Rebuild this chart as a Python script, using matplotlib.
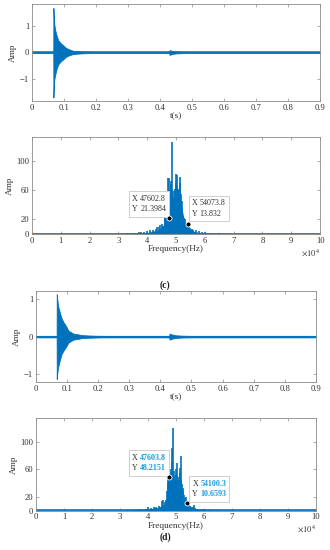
import matplotlib
matplotlib.use("Agg")
import matplotlib.pyplot as plt
from matplotlib.patches import Rectangle
from matplotlib.transforms import IdentityTransform

plt.rcParams['font.family'] = ['Liberation Serif', 'DejaVu Serif']
plt.rcParams['mathtext.fontset'] = 'stix'

BLUE = '#0072BD'
TIPBLUE = '#1a9ae0'
EDGE = '#8c8c8c'
TXT = '#333333'

# ---------------- data ----------------
# time signal (c): envelope points (t, upper, lower)
tc_t  = [0.0, 0.0665, 0.0668, 0.0690, 0.0720, 0.0770, 0.0820, 0.0900, 0.0980, 0.1050, 0.1130, 0.1220, 0.1290, 0.1400, 0.1600, 0.1900, 0.2200, 0.4280, 0.4300, 0.4320, 0.4400, 0.4500, 0.4700, 0.5000, 0.9000]
tc_up = [0.02, 0.02, 1.65, 1.10, 0.85, 0.62, 0.45, 0.34, 0.26, 0.18, 0.13, 0.09, 0.06, 0.045, 0.03, 0.022, 0.02, 0.02, 0.09, 0.08, 0.05, 0.035, 0.025, 0.02, 0.02]
tc_lo = [-0.02, -0.02, -1.67, -1.05, -0.85, -0.60, -0.44, -0.33, -0.25, -0.17, -0.12, -0.08, -0.06, -0.045, -0.03, -0.022, -0.02, -0.02, -0.09, -0.08, -0.05, -0.035, -0.025, -0.02, -0.02]

# time signal (d)
td_t  = [0.0, 0.0665, 0.0668, 0.0690, 0.0720, 0.0780, 0.0830, 0.0900, 0.0960, 0.1040, 0.1120, 0.1200, 0.1350, 0.1470, 0.1700, 0.2000, 0.2300, 0.4280, 0.4300, 0.4330, 0.4400, 0.4500, 0.4700, 0.5000, 0.9000]
td_up = [0.02, 0.02, 1.12, 0.95, 0.78, 0.60, 0.47, 0.36, 0.29, 0.16, 0.12, 0.08, 0.06, 0.04, 0.03, 0.022, 0.02, 0.02, 0.08, 0.07, 0.05, 0.035, 0.025, 0.02, 0.02]
td_lo = [-0.02, -0.02, -1.12, -0.93, -0.78, -0.58, -0.45, -0.35, -0.28, -0.16, -0.12, -0.08, -0.06, -0.04, -0.03, -0.022, -0.02, -0.02, -0.08, -0.07, -0.05, -0.035, -0.025, -0.02, -0.02]

# spectrum (c): spike frequencies (x1e4 Hz) and amplitudes
sc_f = [3.3, 3.5, 3.7, 3.8, 3.9, 4.0, 4.1, 4.2, 4.3, 4.35, 4.4, 4.45, 4.5, 4.55, 4.6, 4.63, 4.66, 4.69, 4.71, 4.73, 4.75, 4.77, 4.79, 4.81, 4.83, 4.85, 4.87, 4.89, 4.91, 4.93, 4.95, 4.97, 4.99, 5.01, 5.03, 5.05, 5.07, 5.09, 5.11, 5.13, 5.15, 5.17, 5.19, 5.21, 5.24, 5.27, 5.30, 5.33, 5.36, 5.40, 5.45, 5.50, 5.55, 5.60, 5.70, 5.80, 5.90, 6.00, 6.20, 6.50]
sc_a = [1.5, 2.0, 2.5, 3.0, 3.0, 4.0, 5.0, 6.0, 7.0, 9.0, 10.0, 12.0, 14.0, 11.0, 22.0, 25.0, 30.0, 36.0, 40.0, 76.0, 77.0, 60.0, 55.0, 68.0, 72.0, 60.0, 126.0, 58.0, 50.0, 45.0, 62.0, 60.0, 82.0, 70.0, 65.0, 81.0, 60.0, 55.0, 62.0, 70.0, 78.0, 55.0, 45.0, 32.0, 25.0, 22.0, 20.0, 15.0, 13.0, 12.0, 10.0, 8.0, 7.0, 6.0, 5.0, 4.0, 3.0, 2.5, 2.0, 1.5]

# spectrum (d)
sd_f = [3.5, 3.7, 3.9, 4.0, 4.1, 4.2, 4.3, 4.4, 4.45, 4.5, 4.55, 4.6, 4.64, 4.68, 4.71, 4.73, 4.75, 4.77, 4.79, 4.81, 4.83, 4.85, 4.87, 4.89, 4.91, 4.93, 4.95, 4.97, 4.99, 5.01, 5.03, 5.05, 5.07, 5.09, 5.11, 5.13, 5.15, 5.17, 5.19, 5.21, 5.24, 5.27, 5.30, 5.33, 5.36, 5.39, 5.42, 5.46, 5.50, 5.55, 5.60, 5.65, 5.70, 5.80, 5.90, 6.00, 6.20, 6.50]
sd_a = [1.5, 2.0, 3.0, 5.0, 4.0, 6.0, 5.0, 7.0, 6.0, 14.0, 16.0, 12.0, 15.0, 28.0, 40.0, 57.0, 50.0, 55.0, 60.0, 52.0, 55.0, 91.0, 70.0, 119.0, 50.0, 45.0, 58.0, 48.0, 52.0, 60.0, 69.0, 50.0, 45.0, 42.0, 48.0, 55.0, 62.0, 79.0, 45.0, 38.0, 33.0, 28.0, 22.0, 18.0, 20.0, 14.0, 11.0, 8.0, 7.0, 6.0, 5.0, 8.0, 4.0, 3.0, 2.5, 2.0, 1.5, 1.0]

# spectrum "body" envelopes (freq x1e4, amp)
bc_f = [0.0, 3.0, 4.0, 4.4, 4.6, 4.7, 4.75, 4.8, 4.9, 5.0, 5.1, 5.2, 5.3, 5.4, 5.6, 5.8, 6.2, 7.0, 10.0]
bc_a = [0.8, 0.8, 2.0, 6.0, 14.0, 25.0, 40.0, 46.0, 50.0, 52.0, 50.0, 36.0, 16.0, 9.0, 4.0, 2.0, 1.2, 0.8, 0.8]
bd_f = [0.0, 3.0, 4.0, 4.4, 4.6, 4.7, 4.75, 4.8, 4.9, 5.0, 5.1, 5.2, 5.3, 5.4, 5.6, 5.8, 6.2, 7.0, 10.0]
bd_a = [0.8, 0.8, 2.5, 5.0, 10.0, 25.0, 42.0, 45.0, 44.0, 40.0, 36.0, 28.0, 16.0, 9.0, 4.0, 2.0, 1.2, 0.8, 0.8]

# data tips: x (x1e4), y, shown X text, shown Y text
tipc = [(4.76028, 21.3984, '47602.8', '21.3984'), (5.40738, 13.832, '54073.8', '13.832')]
tipd = [(4.76038, 48.2151, '47603.8', '48.2151'), (5.41003, 10.6593, '54100.3', '10.6593')]

t_ticks = [0, 0.1, 0.2, 0.3, 0.4, 0.5, 0.6, 0.7, 0.8, 0.9]
t_labels = ['0', '0.1', '0.2', '0.3', '0.4', '0.5', '0.6', '0.7', '0.8', '0.9']
f_ticks = [0, 1, 2, 3, 4, 5, 6, 7, 8, 9, 10]
amp_ticks = [0, 20, 60, 100]

# ---------------- figure ----------------
fig = plt.figure(figsize=(3.3, 5.5), dpi=100)
FS = 6.2
TFS = 5.8
tip_texts = []  # (axes, label_text, value_text)


def style(ax):
    for s in ax.spines.values():
        s.set_color(EDGE)
        s.set_linewidth(0.6)
    ax.tick_params(direction='in', length=2.2, width=0.5, colors=EDGE,
                   labelcolor=TXT, labelsize=FS, top=True, right=True, pad=2)


def time_panel(rect, t, up, lo, ylim):
    ax = fig.add_axes(rect)
    ax.fill_between(t, lo, up, color=BLUE, linewidth=0.6, edgecolor=BLUE)
    ax.plot([0, 0.9], [0, 0], color=BLUE, lw=1.1)
    ax.set_xlim(0, 0.9)
    ax.set_ylim(*ylim)
    ax.set_xticks(t_ticks)
    ax.set_xticklabels(t_labels)
    ax.set_yticks([-1, 0, 1])
    ax.set_yticklabels(['\u22121', '0', '1'])
    ax.set_xlabel('t(s)', fontsize=FS + 0.5, color=TXT, labelpad=0.5)
    ax.set_ylabel('Amp', fontsize=FS + 0.5, color=TXT, labelpad=2)
    style(ax)
    return ax


def spec_panel(rect, f, a, bf, ba, ytop, tips, bold, offs):
    ax = fig.add_axes(rect)
    ax.fill_between(bf, 0, ba, color=BLUE, linewidth=0)
    ax.vlines(f, 0, a, color=BLUE, lw=1.2)
    ax.plot([0, 10], [0.5, 0.5], color=BLUE, lw=1.2)
    ax.set_xlim(0, 10)
    ax.set_ylim(0, ytop)
    ax.set_xticks(f_ticks)
    ax.set_yticks(amp_ticks)
    ax.set_xlabel('Frequency(Hz)', fontsize=FS + 0.5, color=TXT, labelpad=0.5)
    ax.set_ylabel('Amp', fontsize=FS + 0.5, color=TXT, labelpad=2)
    ax.text(1.0, -0.14, r'$\times10^{4}$', transform=ax.transAxes, ha='right',
            va='top', fontsize=FS, color=TXT)
    style(ax)
    for (x, y, xs, ys), (dx, dy) in zip(tips, offs):
        ax.plot([x], [y], 'o', ms=3.6, mfc='black', mec='white', mew=0.6, zorder=9)
        lab = ax.annotate('X\nY', xy=(x, y), xytext=(dx, dy),
                          textcoords='offset pixels', fontsize=TFS,
                          color=TXT, va='bottom', ha='left', zorder=8,
                          linespacing=1.45, annotation_clip=False)
        val = ax.annotate(xs + '\n' + ys, xy=(x, y), xytext=(dx + 8, dy),
                          textcoords='offset pixels', fontsize=TFS,
                          color=TIPBLUE if bold else TXT,
                          fontweight='bold' if bold else 'normal',
                          va='bottom', ha='left', zorder=8, linespacing=1.45,
                          annotation_clip=False)
        tip_texts.append((ax, lab, val))
    return ax


time_panel([0.097, 0.8164, 0.873, 0.1764], tc_t, tc_up, tc_lo, (-1.8, 1.8))
spec_panel([0.097, 0.5745, 0.873, 0.176], sc_f, sc_a, bc_f, bc_a, 132, tipc, False,
           [(-37, 5), (4, 6)])
fig.text(0.5, 1 - 285 / 550, '(c)', ha='center', va='center', fontsize=7,
         fontweight='bold', color='#222222')

time_panel([0.109, 0.3055, 0.848, 0.165], td_t, td_up, td_lo, (-1.2, 1.2))
spec_panel([0.109, 0.0715, 0.848, 0.1685], sd_f, sd_a, bd_f, bd_a, 134, tipd, True,
           [(-37, 5), (5, 5)])
fig.text(0.5, 1 - 537 / 550, '(d)', ha='center', va='center', fontsize=7,
         fontweight='bold', color='#222222')

# boxes around data-tip texts
fig.canvas.draw()
r = fig.canvas.get_renderer()
PX, PY = 3.0, 3.5
for ax, lab, val in tip_texts:
    b1 = lab.get_window_extent(r)
    b2 = val.get_window_extent(r)
    x0 = min(b1.x0, b2.x0) - PX
    y0 = min(b1.y0, b2.y0) - PY
    x1 = max(b1.x1, b2.x1) + PX
    y1 = max(b1.y1, b2.y1) + PY
    rect = Rectangle((x0, y0), x1 - x0, y1 - y0, transform=IdentityTransform(),
                     facecolor='white', edgecolor='#cfcfcf', lw=0.7, zorder=7,
                     clip_on=False)
    ax.add_artist(rect)

fig.savefig('out.png', dpi=100, facecolor='white')
